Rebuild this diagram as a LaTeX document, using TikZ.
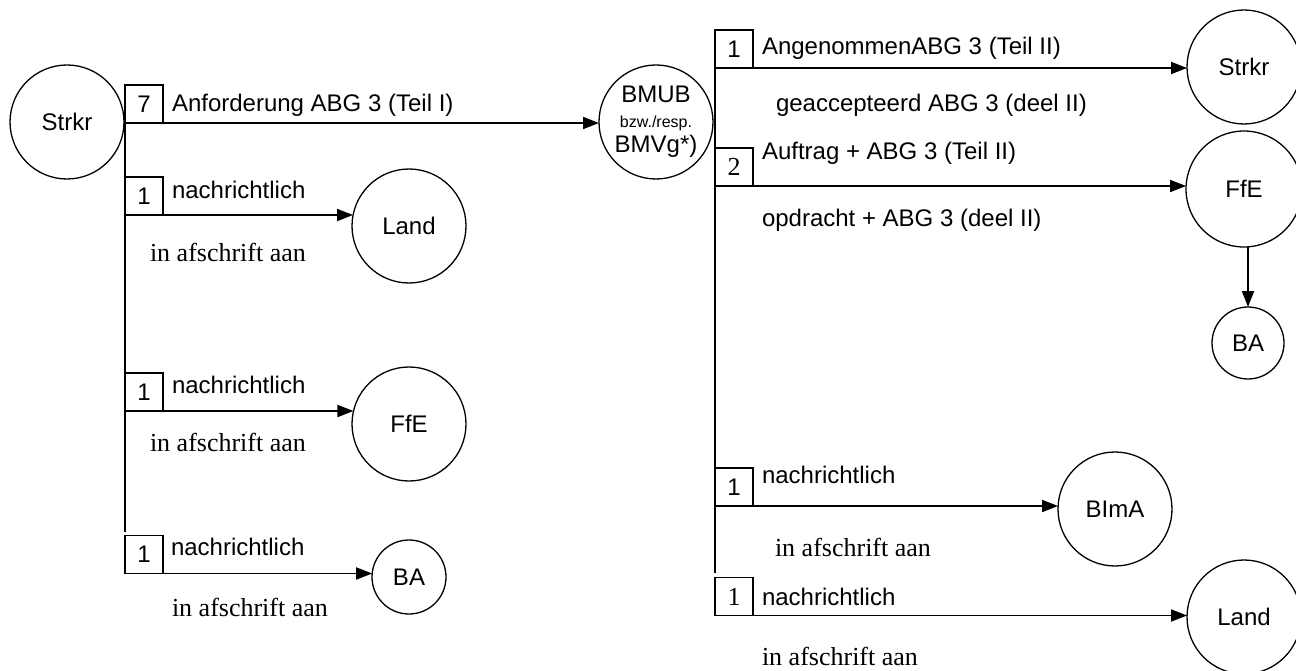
\documentclass[tikz,border=0pt]{standalone}
\usepackage{fontspec}
\setmainfont{Liberation Sans}
\newfontfamily\seriffont{Liberation Serif}
\usetikzlibrary{arrows.meta}

\begin{document}
\begin{tikzpicture}[x=1pt,y=-1pt,
 every node/.style={inner sep=0pt, outer sep=0pt},
 circ/.style={draw, circle, line width=1.3pt, minimum size=114pt, font=\fontsize{24}{28}\selectfont},
 smallcirc/.style={circ, minimum size=74pt},
 numbox/.style={draw, line width=1.3pt, minimum width=38pt, minimum height=38pt, font=\fontsize{24}{28}\selectfont},
 serifbox/.style={numbox, font=\seriffont\fontsize{26}{30}\selectfont},
 lbl/.style={anchor=west, font=\fontsize{24}{28}\selectfont},
 slbl/.style={anchor=west, font=\seriffont\fontsize{26}{30}\selectfont},
 arr/.style={line width=1.8pt, -{Triangle[length=16pt,width=12pt]}},
 ln/.style={line width=1.8pt}]
\useasboundingbox (0,0) rectangle (1296,671);

% circles
\node[circ] (strkrL) at (67,122) {Strkr};
\node[circ] (landL) at (409,226) {Land};
\node[circ] (ffeL) at (409,424) {FfE};
\node[smallcirc] (baL) at (409,577) {BA};
\node[circ, align=center] (bmub) at (656,122) {BMUB\\[-3pt]{\fontsize{16}{18}\selectfont bzw./resp.}\\[-3pt]BMVg*)};
\node[circ] (strkrR) at (1244,67) {Strkr};
\node[circ, minimum size=116pt] (ffeR) at (1244,189) {FfE};
\node[smallcirc, minimum size=72pt] (baR) at (1248,343) {BA};
\node[circ] (bima) at (1115,509) {BImA};
\node[circ] (landR) at (1244,617) {Land};

% number boxes
\node[numbox] (b7) at (144,104) {7};
\node[numbox] (bl1) at (144,196) {1};
\node[numbox] (bl2) at (144,392) {1};
\node[numbox] (bl3) at (144,554.5) {1};
\node[numbox] (br1) at (734,49) {1};
\node[serifbox] (br2) at (734,167) {2};
\node[numbox] (br3) at (734,487) {1};
\node[serifbox] (br4) at (734,596.5) {1};

% trunk lines
\coordinate (lend) at (125,532);
\coordinate (rend) at (715,573);
\draw[ln] (b7.south west) -- (lend);
\draw[ln] (br1.south west) -- (rend);

% arrows
\draw[arr] (b7.south east) -- (bmub.181 |- b7.south east);
\draw[arr] (bl1.south east) -- (landL.169 |- bl1.south east);
\draw[arr] (bl2.south east) -- (ffeL.167 |- bl2.south east);
\draw[arr] (bl3.south east) -- (baL.174 |- bl3.south east);
\draw[arr] (br1.south east) -- (strkrR.181 |- br1.south east);
\draw[arr] (br2.south east) -- (ffeR.177 |- br2.south east);
\draw[arr] (br3.south east) -- (bima.177 |- br3.south east);
\draw[arr] (br4.south east) -- (landR.178 |- br4.south east);
\draw[arr] (ffeR.south -| baR.north) -- (baR.north);

% labels left
\node[lbl] (t1) at (172,105) {Anforderung ABG 3 (Teil I)};
\node[lbl] (t2) at (172,190) {nachrichtlich};
\node[slbl] (t3) at (150,252) {in afschrift aan};
\node[lbl] (t4) at (172,385) {nachrichtlich};
\node[slbl] (t5) at (150,442) {in afschrift aan};
\node[lbl] (t6) at (171,547) {nachrichtlich};
\node[slbl] (t7) at (172,607) {in afschrift aan};

% labels right
\node[lbl] (r1) at (762,48) {AngenommenABG 3 (Teil II)};
\node[lbl] (r2) at (776,105) {geaccepteerd ABG 3 (deel II)};
\node[lbl] (r3) at (762,153) {Auftrag + ABG 3 (Teil II)};
\node[lbl] (r4) at (762,220) {opdracht + ABG 3 (deel II)};
\node[lbl] (r5) at (762,475) {nachrichtlich};
\node[slbl] (r6) at (775,547) {in afschrift aan};
\node[lbl] (r7) at (762,597) {nachrichtlich};
\node[slbl] (r8) at (762,656) {in afschrift aan};
\end{tikzpicture}
\end{document}
